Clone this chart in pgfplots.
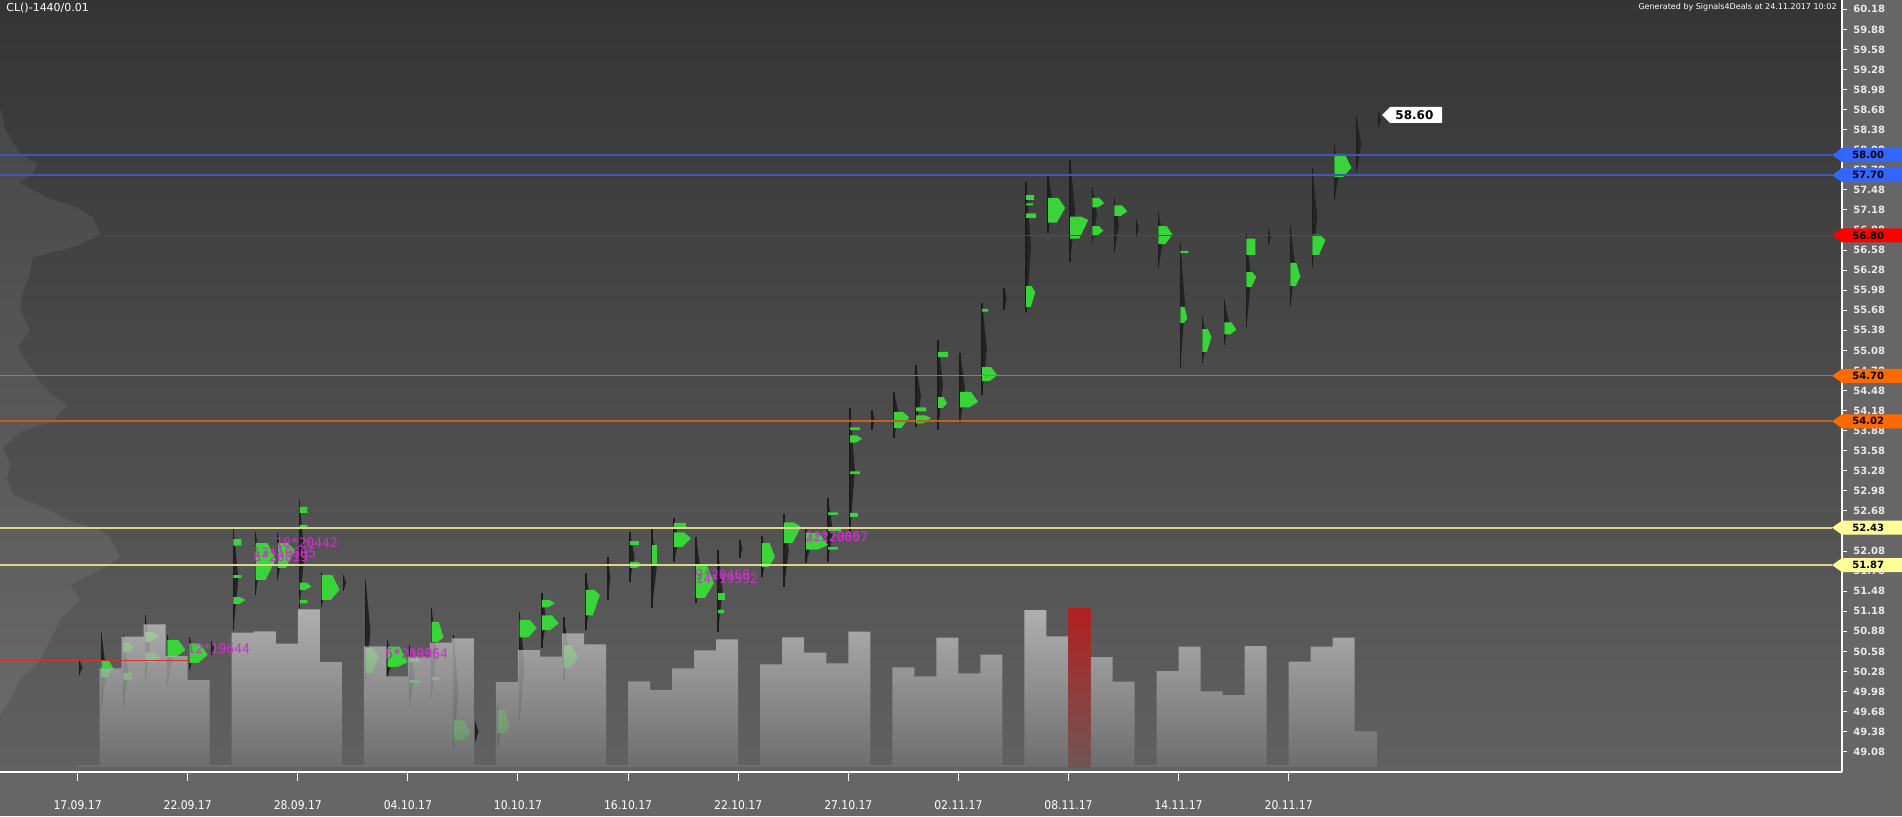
\documentclass[border=0pt]{standalone}
\usepackage{fontspec}
\setmainfont{DejaVu Sans}
\newfontfamily\condfont{DejaVu Sans Condensed}
\newfontfamily\monofont{DejaVu Sans Mono}
\usepackage{pgfplots}
\pgfplotsset{compat=1.18}
\definecolor{bgout}{HTML}{666666}
\definecolor{bgtop}{HTML}{343434}
\definecolor{bgmid}{HTML}{4C4C4C}
\definecolor{bgbot}{HTML}{616161}
\definecolor{volTop}{HTML}{CDCDCD}
\definecolor{volBot}{HTML}{737373}
\definecolor{redTop}{HTML}{C01818}
\definecolor{redBot}{HTML}{745454}
\definecolor{prgreen}{HTML}{38D438}
\definecolor{prline}{HTML}{1C1C1C}
\definecolor{prhair}{HTML}{242424}
\definecolor{lvblue}{HTML}{3A58B8}
\definecolor{lvred}{HTML}{B81C1C}
\definecolor{lvorA}{HTML}{D2691E}
\definecolor{lvorB}{HTML}{C0601E}
\definecolor{lvyel}{HTML}{D8D890}
\definecolor{tagblue}{HTML}{3366FF}
\definecolor{tagred}{HTML}{FF0000}
\definecolor{tagor}{HTML}{FF6A00}
\definecolor{tagyel}{HTML}{FFFF99}
\definecolor{mag}{HTML}{CC33CC}
\pgfplotsset{
  base/.style={at={(0pt,22pt)}, anchor=south west, scale only axis,
    width=921pt, height=386pt, xmin=-3.524, xmax=80.13},
  price/.style={base, ymin=48.777, ymax=60.319},
}
\newcommand{\ptag}[3]{%
  \fill[#2] (#1) ++(-10,0) -- ++(10,7) -- ++(60,0) -- ++(0,-14) -- ++(-60,0) -- cycle;
  \node[anchor=west, inner sep=0pt, text=black, font=\bfseries\fontsize{5}{6}\selectfont] at ([xshift=5pt]#1) {#3};}
\begin{document}
\begin{tikzpicture}[x=0.5pt,y=0.5pt]
\useasboundingbox (0,0) rectangle (1902,816);
\fill[bgout] (0,0) rectangle (1902,816);
\shade[top color=bgtop, middle color=bgmid, bottom color=bgbot] (0,44) rectangle (1842,816);

% ---------- price layer 1: market profiles ----------
\begin{axis}[price, axis x line*=bottom, axis y line=none, ytick=\empty,
  axis line style={white, line width=0.6pt},
  xtick={0,5,...,55},
  xticklabels={17.09.17,22.09.17,28.09.17,04.10.17,10.10.17,16.10.17,22.10.17,27.10.17,02.11.17,08.11.17,14.11.17,20.11.17},
  tick align=outside, major tick length=4.5pt,
  tick style={white, line width=0.5pt},
  xticklabel style={font=\condfont\fontsize{6}{7}\selectfont, text=white, inner sep=0pt, yshift=-9.5pt}]
% composite volume profile at the left edge
\addplot[fill=white, fill opacity=0.07, draw=none] coordinates {
(-3.524,58.70) (-3.43,58.629) (-3.30,58.390) (-2.62,58.016) (-1.84,57.867) (-2.03,57.717)
(-2.62,57.583) (-1.25,57.344) (-0.03,57.224) (0.70,57.060) (1.02,56.805) (-0.03,56.641)
(-2.03,56.476) (-2.16,56.237) (-2.48,55.953) (-2.62,55.714) (-2.16,55.370) (-2.71,55.131)
(-2.30,54.906) (-1.84,54.667) (-1.25,54.443) (-0.48,54.263) (-1.12,54.024) (-2.62,53.860)
(-3.39,53.620) (-3.07,53.381) (-3.21,53.157) (-2.93,52.918) (-1.25,52.693) (-0.21,52.514)
(1.02,52.394) (1.47,52.290) (1.93,51.991) (1.02,51.796) (-0.34,51.572) (0.11,51.348)
(-0.80,51.048) (-1.25,50.750) (-1.71,50.450) (-2.62,50.152) (-3.07,49.853) (-3.524,49.628)} -- cycle;
% dark TPO hair beside each daily range (low, mid, high)
\addplot[fill=prhair, draw=none, unbounded coords=jump] coordinates {
(0.08,50.23) (0.22,50.34) (0.08,50.45) (0.08,nan)
(1.08,49.70) (1.30,50.28) (1.08,50.86) (1.08,nan)
(2.08,49.75) (2.30,50.285) (2.08,50.82) (2.08,nan)
(3.08,50.15) (3.30,50.635) (3.08,51.12) (3.08,nan)
(4.08,50.08) (4.30,50.45) (4.08,50.82) (4.08,nan)
(5.08,50.30) (5.30,50.55) (5.08,50.80) (5.08,nan)
(6.08,50.53) (6.20,50.63) (6.08,50.73) (6.08,nan)
(7.08,50.90) (7.30,51.67) (7.08,52.44) (7.08,nan)
(8.08,51.42) (8.30,51.895) (8.08,52.37) (8.08,nan)
(9.08,51.65) (9.30,52.00) (9.08,52.35) (9.08,nan)
(10.08,51.23) (10.30,52.035) (10.08,52.84) (10.08,nan)
(11.08,51.25) (11.30,51.51) (11.08,51.77) (11.08,nan)
(12.08,51.49) (12.20,51.605) (12.08,51.72) (12.08,nan)
(13.08,50.11) (13.30,50.88) (13.08,51.65) (13.08,nan)
(14.08,50.19) (14.30,50.47) (14.08,50.75) (14.08,nan)
(15.08,49.78) (15.30,50.225) (15.08,50.67) (15.08,nan)
(16.08,49.88) (16.30,50.555) (16.08,51.23) (16.08,nan)
(17.08,49.11) (17.30,49.965) (17.08,50.82) (17.08,nan)
(18.08,49.24) (18.20,49.38) (18.08,49.52) (18.08,nan)
(19.08,49.13) (19.30,49.47) (19.08,49.81) (19.08,nan)
(20.08,49.55) (20.30,50.36) (20.08,51.17) (20.08,nan)
(21.08,50.63) (21.30,51.04) (21.08,51.45) (21.08,nan)
(22.08,50.15) (22.30,50.62) (22.08,51.09) (22.08,nan)
(23.08,50.90) (23.30,51.325) (23.08,51.75) (23.08,nan)
(24.08,51.35) (24.20,51.67) (24.08,51.99) (24.08,nan)
(25.08,51.62) (25.30,51.995) (25.08,52.37) (25.08,nan)
(26.08,51.23) (26.30,51.825) (26.08,52.42) (26.08,nan)
(27.08,51.92) (27.30,52.245) (27.08,52.57) (27.08,nan)
(28.08,51.30) (28.30,51.795) (28.08,52.29) (28.08,nan)
(29.08,50.87) (29.30,51.485) (29.08,52.10) (29.08,nan)
(30.08,51.98) (30.20,52.115) (30.08,52.25) (30.08,nan)
(31.08,51.69) (31.30,52.00) (31.08,52.31) (31.08,nan)
(32.08,51.54) (32.30,52.085) (32.08,52.63) (32.08,nan)
(33.08,51.90) (33.30,52.17) (33.08,52.44) (33.08,nan)
(34.08,51.92) (34.30,52.395) (34.08,52.87) (34.08,nan)
(35.08,52.36) (35.30,53.29) (35.08,54.22) (35.08,nan)
(36.08,53.89) (36.20,54.04) (36.08,54.19) (36.08,nan)
(37.08,53.77) (37.30,54.115) (37.08,54.46) (37.08,nan)
(38.08,53.93) (38.30,54.395) (38.08,54.86) (38.08,nan)
(39.08,53.89) (39.30,54.565) (39.08,55.24) (39.08,nan)
(40.08,53.99) (40.30,54.515) (40.08,55.04) (40.08,nan)
(41.08,54.41) (41.30,55.10) (41.08,55.79) (41.08,nan)
(42.08,55.68) (42.20,55.845) (42.08,56.01) (42.08,nan)
(43.08,55.65) (43.30,56.625) (43.08,57.60) (43.08,nan)
(44.08,56.84) (44.30,57.27) (44.08,57.70) (44.08,nan)
(45.08,56.40) (45.30,57.165) (45.08,57.93) (45.08,nan)
(46.08,56.70) (46.30,57.11) (46.08,57.52) (46.08,nan)
(47.08,56.55) (47.30,56.955) (47.08,57.36) (47.08,nan)
(48.08,56.78) (48.20,56.905) (48.08,57.03) (48.08,nan)
(49.08,56.31) (49.30,56.73) (49.08,57.15) (49.08,nan)
(50.08,54.82) (50.30,55.75) (50.08,56.68) (50.08,nan)
(51.08,54.89) (51.30,55.235) (51.08,55.58) (51.08,nan)
(52.08,55.16) (52.30,55.495) (52.08,55.83) (52.08,nan)
(53.08,55.43) (53.30,56.135) (53.08,56.84) (53.08,nan)
(54.08,56.66) (54.20,56.78) (54.08,56.90) (54.08,nan)
(55.08,55.74) (55.30,56.34) (55.08,56.94) (55.08,nan)
(56.08,56.33) (56.30,57.07) (56.08,57.81) (56.08,nan)
(57.08,57.33) (57.30,57.74) (57.08,58.15) (57.08,nan)
(58.08,57.75) (58.30,58.165) (58.08,58.58) (58.08,nan)
(59.08,58.42) (59.20,58.53) (59.08,58.64)};
% daily ranges
\addplot[draw=prline, line width=0.75pt, unbounded coords=jump] coordinates {
(0.08,50.23) (0.08,50.45) (0.08,nan)
(1.08,49.70) (1.08,50.86) (1.08,nan)
(2.08,49.75) (2.08,50.82) (2.08,nan)
(3.08,50.15) (3.08,51.12) (3.08,nan)
(4.08,50.08) (4.08,50.82) (4.08,nan)
(5.08,50.30) (5.08,50.80) (5.08,nan)
(6.08,50.53) (6.08,50.73) (6.08,nan)
(7.08,50.90) (7.08,52.44) (7.08,nan)
(8.08,51.42) (8.08,52.37) (8.08,nan)
(9.08,51.65) (9.08,52.35) (9.08,nan)
(10.08,51.23) (10.08,52.84) (10.08,nan)
(11.08,51.25) (11.08,51.77) (11.08,nan)
(12.08,51.49) (12.08,51.72) (12.08,nan)
(13.08,50.11) (13.08,51.65) (13.08,nan)
(14.08,50.19) (14.08,50.75) (14.08,nan)
(15.08,49.78) (15.08,50.67) (15.08,nan)
(16.08,49.88) (16.08,51.23) (16.08,nan)
(17.08,49.11) (17.08,50.82) (17.08,nan)
(18.08,49.24) (18.08,49.52) (18.08,nan)
(19.08,49.13) (19.08,49.81) (19.08,nan)
(20.08,49.55) (20.08,51.17) (20.08,nan)
(21.08,50.63) (21.08,51.45) (21.08,nan)
(22.08,50.15) (22.08,51.09) (22.08,nan)
(23.08,50.90) (23.08,51.75) (23.08,nan)
(24.08,51.35) (24.08,51.99) (24.08,nan)
(25.08,51.62) (25.08,52.37) (25.08,nan)
(26.08,51.23) (26.08,52.42) (26.08,nan)
(27.08,51.92) (27.08,52.57) (27.08,nan)
(28.08,51.30) (28.08,52.29) (28.08,nan)
(29.08,50.87) (29.08,52.10) (29.08,nan)
(30.08,51.98) (30.08,52.25) (30.08,nan)
(31.08,51.69) (31.08,52.31) (31.08,nan)
(32.08,51.54) (32.08,52.63) (32.08,nan)
(33.08,51.90) (33.08,52.44) (33.08,nan)
(34.08,51.92) (34.08,52.87) (34.08,nan)
(35.08,52.36) (35.08,54.22) (35.08,nan)
(36.08,53.89) (36.08,54.19) (36.08,nan)
(37.08,53.77) (37.08,54.46) (37.08,nan)
(38.08,53.93) (38.08,54.86) (38.08,nan)
(39.08,53.89) (39.08,55.24) (39.08,nan)
(40.08,53.99) (40.08,55.04) (40.08,nan)
(41.08,54.41) (41.08,55.79) (41.08,nan)
(42.08,55.68) (42.08,56.01) (42.08,nan)
(43.08,55.65) (43.08,57.60) (43.08,nan)
(44.08,56.84) (44.08,57.70) (44.08,nan)
(45.08,56.40) (45.08,57.93) (45.08,nan)
(46.08,56.70) (46.08,57.52) (46.08,nan)
(47.08,56.55) (47.08,57.36) (47.08,nan)
(48.08,56.78) (48.08,57.03) (48.08,nan)
(49.08,56.31) (49.08,57.15) (49.08,nan)
(50.08,54.82) (50.08,56.68) (50.08,nan)
(51.08,54.89) (51.08,55.58) (51.08,nan)
(52.08,55.16) (52.08,55.83) (52.08,nan)
(53.08,55.43) (53.08,56.84) (53.08,nan)
(54.08,56.66) (54.08,56.90) (54.08,nan)
(55.08,55.74) (55.08,56.94) (55.08,nan)
(56.08,56.33) (56.08,57.81) (56.08,nan)
(57.08,57.33) (57.08,58.15) (57.08,nan)
(58.08,57.75) (58.08,58.58) (58.08,nan)
(59.08,58.42) (59.08,58.64) (59.08,nan)};
% green profile blocks
\addplot[fill=prgreen, draw=none, unbounded coords=jump] coordinates {
(1.08,50.45) (1.40,50.45) (1.62,50.33) (1.35,50.20) (1.08,50.20) (1.08,nan)
(2.08,50.71) (2.35,50.71) (2.53,50.64) (2.31,50.57) (2.08,50.57) (2.08,nan)
(2.08,50.15) (2.49,50.15) (2.49,50.26) (2.08,50.26) (2.08,nan)
(3.08,50.87) (3.43,50.87) (3.67,50.80) (3.38,50.72) (3.08,50.72) (3.08,nan)
(3.08,50.56) (3.49,50.56) (3.76,50.49) (3.42,50.42) (3.08,50.42) (3.08,nan)
(4.08,50.75) (4.57,50.75) (4.90,50.60) (4.49,50.50) (4.08,50.50) (4.08,nan)
(5.08,50.70) (5.57,50.70) (5.90,50.53) (5.49,50.41) (5.08,50.41) (5.08,nan)
(7.08,52.16) (7.44,52.16) (7.44,52.26) (7.08,52.26) (7.08,nan)
(7.08,51.68) (7.44,51.68) (7.44,51.72) (7.08,51.72) (7.08,nan)
(7.08,51.39) (7.40,51.39) (7.62,51.35) (7.35,51.29) (7.08,51.29) (7.08,nan)
(8.08,52.20) (8.63,52.20) (8.99,51.95) (8.54,51.65) (8.08,51.65) (8.08,nan)
(9.08,52.20) (9.54,52.20) (9.85,52.10) (9.47,51.83) (9.08,51.83) (9.08,nan)
(10.08,52.65) (10.44,52.65) (10.44,52.74) (10.08,52.74) (10.08,nan)
(10.08,52.42) (10.44,52.42) (10.44,52.47) (10.08,52.47) (10.08,nan)
(10.08,51.61) (10.40,51.61) (10.62,51.55) (10.35,51.50) (10.08,51.50) (10.08,nan)
(10.08,51.30) (10.44,51.30) (10.44,51.35) (10.08,51.35) (10.08,nan)
(11.08,51.72) (11.57,51.72) (11.90,51.50) (11.49,51.35) (11.08,51.35) (11.08,nan)
(13.08,50.63) (13.43,50.63) (13.67,50.50) (13.38,50.26) (13.08,50.26) (13.08,nan)
(14.08,50.65) (14.63,50.65) (14.99,50.42) (14.54,50.35) (14.08,50.35) (14.08,nan)
(15.08,50.42) (15.53,50.42) (15.53,50.50) (15.08,50.50) (15.08,nan)
(15.08,50.11) (15.53,50.11) (15.53,50.15) (15.08,50.15) (15.08,nan)
(16.08,51.02) (16.40,51.02) (16.62,50.79) (16.35,50.72) (16.08,50.72) (16.08,nan)
(16.08,50.15) (16.44,50.15) (16.44,50.20) (16.08,50.20) (16.08,nan)
(17.08,49.55) (17.54,49.55) (17.85,49.36) (17.47,49.25) (17.08,49.25) (17.08,nan)
(19.08,49.70) (19.40,49.70) (19.62,49.45) (19.35,49.36) (19.08,49.36) (19.08,nan)
(20.08,51.05) (20.54,51.05) (20.85,50.93) (20.47,50.79) (20.08,50.79) (20.08,nan)
(21.08,51.35) (21.43,51.35) (21.67,51.30) (21.38,51.24) (21.08,51.24) (21.08,nan)
(21.08,51.12) (21.54,51.12) (21.85,51.00) (21.47,50.90) (21.08,50.90) (21.08,nan)
(22.08,50.67) (22.46,50.67) (22.72,50.50) (22.40,50.33) (22.08,50.33) (22.08,nan)
(23.08,51.50) (23.46,51.50) (23.72,51.42) (23.40,51.12) (23.08,51.12) (23.08,nan)
(25.08,52.17) (25.49,52.17) (25.49,52.23) (25.08,52.23) (25.08,nan)
(25.08,51.92) (25.43,51.92) (25.67,51.87) (25.38,51.83) (25.08,51.83) (25.08,nan)
(26.08,51.87) (26.31,51.87) (26.31,52.17) (26.08,52.17) (26.08,nan)
(27.08,52.44) (27.62,52.44) (27.62,52.50) (27.08,52.50) (27.08,nan)
(27.08,52.36) (27.54,52.36) (27.85,52.27) (27.47,52.14) (27.08,52.14) (27.08,nan)
(28.08,51.87) (28.57,51.87) (28.90,51.60) (28.49,51.38) (28.08,51.38) (28.08,nan)
(29.08,51.35) (29.40,51.35) (29.40,51.45) (29.08,51.45) (29.08,nan)
(29.08,51.15) (29.35,51.15) (29.35,51.20) (29.08,51.20) (29.08,nan)
(31.08,52.20) (31.43,52.20) (31.67,51.99) (31.38,51.84) (31.08,51.84) (31.08,nan)
(32.08,52.51) (32.54,52.51) (32.85,52.44) (32.47,52.20) (32.08,52.20) (32.08,nan)
(33.08,52.35) (33.68,52.35) (34.08,52.17) (33.58,52.10) (33.08,52.10) (33.08,nan)
(34.08,52.62) (34.53,52.62) (34.53,52.66) (34.08,52.66) (34.08,nan)
(34.08,52.38) (34.67,52.38) (34.67,52.43) (34.08,52.43) (34.08,nan)
(34.08,52.10) (34.53,52.10) (34.53,52.14) (34.08,52.14) (34.08,nan)
(35.08,53.89) (35.53,53.89) (35.53,53.93) (35.08,53.93) (35.08,nan)
(35.08,53.81) (35.40,53.81) (35.62,53.76) (35.35,53.70) (35.08,53.70) (35.08,nan)
(35.08,53.23) (35.53,53.23) (35.53,53.27) (35.08,53.27) (35.08,nan)
(35.08,52.59) (35.44,52.59) (35.44,52.65) (35.08,52.65) (35.08,nan)
(37.08,54.16) (37.49,54.16) (37.76,54.08) (37.42,53.92) (37.08,53.92) (37.08,nan)
(38.08,54.17) (38.53,54.17) (38.53,54.23) (38.08,54.23) (38.08,nan)
(38.08,54.11) (38.49,54.11) (38.76,54.07) (38.42,53.99) (38.08,53.99) (38.08,nan)
(39.08,54.98) (39.53,54.98) (39.53,55.06) (39.08,55.06) (39.08,nan)
(39.08,54.38) (39.33,54.38) (39.49,54.29) (39.29,54.22) (39.08,54.22) (39.08,nan)
(40.08,54.46) (40.57,54.46) (40.90,54.31) (40.49,54.23) (40.08,54.23) (40.08,nan)
(41.08,55.66) (41.35,55.66) (41.35,55.70) (41.08,55.70) (41.08,nan)
(41.08,54.83) (41.49,54.83) (41.76,54.71) (41.42,54.62) (41.08,54.62) (41.08,nan)
(43.08,57.33) (43.44,57.33) (43.44,57.40) (43.08,57.40) (43.08,nan)
(43.08,57.25) (43.40,57.25) (43.40,57.28) (43.08,57.28) (43.08,nan)
(43.08,57.06) (43.53,57.06) (43.53,57.13) (43.08,57.13) (43.08,nan)
(43.08,56.04) (43.33,56.04) (43.49,55.95) (43.29,55.73) (43.08,55.73) (43.08,nan)
(44.08,57.36) (44.54,57.36) (44.85,57.21) (44.47,56.99) (44.08,56.99) (44.08,nan)
(45.08,57.08) (45.57,57.08) (45.90,57.03) (45.49,56.75) (45.08,56.75) (45.08,nan)
(46.08,57.36) (46.40,57.36) (46.62,57.28) (46.35,57.22) (46.08,57.22) (46.08,nan)
(46.08,56.94) (46.38,56.94) (46.58,56.87) (46.33,56.80) (46.08,56.80) (46.08,nan)
(47.08,57.25) (47.43,57.25) (47.67,57.16) (47.38,57.09) (47.08,57.09) (47.08,nan)
(49.08,56.94) (49.46,56.94) (49.72,56.81) (49.40,56.67) (49.08,56.67) (49.08,nan)
(50.08,56.54) (50.44,56.54) (50.44,56.57) (50.08,56.57) (50.08,nan)
(50.08,55.73) (50.27,55.73) (50.40,55.56) (50.24,55.49) (50.08,55.49) (50.08,nan)
(51.08,55.40) (51.33,55.40) (51.49,55.28) (51.29,55.06) (51.08,55.06) (51.08,nan)
(52.08,55.50) (52.40,55.50) (52.62,55.39) (52.35,55.32) (52.08,55.32) (52.08,nan)
(53.08,56.51) (53.49,56.51) (53.49,56.75) (53.08,56.75) (53.08,nan)
(53.08,56.25) (53.35,56.25) (53.53,56.18) (53.31,56.03) (53.08,56.03) (53.08,nan)
(55.08,56.39) (55.35,56.39) (55.53,56.18) (55.31,56.04) (55.08,56.04) (55.08,nan)
(56.08,56.81) (56.43,56.81) (56.67,56.73) (56.38,56.51) (56.08,56.51) (56.08,nan)
(57.08,58.02) (57.54,58.02) (57.85,57.81) (57.47,57.67) (57.08,57.67)};
\end{axis}

% ---------- volume layer ----------
\begin{axis}[base, hide axis, ymin=-5, ymax=767]
\addplot[ybar, bar width=1, bar shift=0pt, draw=none, top color=volTop, bottom color=volBot, fill opacity=0.75] coordinates {
(0.5,2) (1.5,98.7) (2.5,130.3) (3.5,142.7) (4.5,111) (5.5,87) (6.5,2)
(7.5,134.3) (8.5,135.7) (9.5,123.3) (10.5,157.7) (11.5,105) (12.5,2)
(13.5,120.7) (14.5,90.7) (15.5,110.3) (16.5,124.3) (17.5,128.7) (18.5,2)
(19.5,85) (20.5,117) (21.5,110.3) (22.5,133.7) (23.5,122.7) (24.5,2)
(25.5,85.7) (26.5,77) (27.5,98.7) (28.5,116.7) (29.5,127.7) (30.5,2)
(31.5,102.7) (32.5,129.7) (33.5,114.3) (34.5,103.7) (35.5,135.3) (36.5,2)
(37.5,99.7) (38.5,90.7) (39.5,129.3) (40.5,93.7) (41.5,112.3) (42.5,2)
(43.5,157) (44.5,130.7) (46.5,110) (47.5,85.3) (48.5,2)
(49.5,96) (50.5,120.3) (51.5,75.7) (52.5,72) (53.5,121) (54.5,2)
(55.5,105.3) (56.5,120.3) (57.5,129.3) (58.5,35.7)};
\addplot[ybar, bar width=1, bar shift=0pt, draw=none, top color=redTop, bottom color=redBot, fill opacity=0.85] coordinates {(45.5,159)};
\end{axis}

% ---------- price layer 2: levels, labels, right scale ----------
\begin{axis}[price, clip=false, axis y line*=right, axis x line=none, xtick=\empty,
  axis line style={white, line width=0.6pt},
  ytick={49.08,49.38,...,60.18},
  tick align=outside, major tick length=2.5pt,
  tick style={white, line width=0.5pt},
  /pgf/number format/assume math mode=true,
  yticklabel style={/pgf/number format/.cd, fixed, fixed zerofill, precision=2, /tikz/.cd,
    font=\bfseries\fontsize{5}{6}\selectfont, text=white!92!black, anchor=west, inner sep=0pt, xshift=3pt}]
\addplot[lvblue, line width=1pt] coordinates {(-3.524,58.00) (79.67,58.00)};
\addplot[lvblue, line width=1pt] coordinates {(-3.524,57.70) (79.67,57.70)};
\addplot[lvred, line width=0.8pt] coordinates {(-3.524,56.80) (79.67,56.80)};
\addplot[lvorA, line width=0.5pt] coordinates {(-3.524,54.70) (79.67,54.70)};
\addplot[lvorB, line width=0.9pt] coordinates {(-3.524,54.02) (79.67,54.02)};
\addplot[lvyel, line width=0.9pt] coordinates {(-3.524,52.43) (79.67,52.43)};
\addplot[lvyel, line width=0.9pt] coordinates {(-3.524,51.87) (79.67,51.87)};
\addplot[red!60!gray, line width=0.35pt] coordinates {(-3.524,50.45) (5.10,50.45)};
\coordinate (T1) at (axis cs:80.13,58.00);
\coordinate (T2) at (axis cs:80.13,57.70);
\coordinate (T3) at (axis cs:80.13,56.80);
\coordinate (T4) at (axis cs:80.13,54.70);
\coordinate (T5) at (axis cs:80.13,54.02);
\coordinate (T6) at (axis cs:80.13,52.43);
\coordinate (T7) at (axis cs:80.13,51.87);
\coordinate (T0) at (axis cs:59.24,58.60);
\begin{scope}[every node/.style={anchor=west, inner sep=0pt, text=mag, font=\monofont\fontsize{6.5}{7}\selectfont}]
\node at (axis cs:4.97,50.615) {12*19644};
\node at (axis cs:8.96,52.20) {10*20442};
\node at (axis cs:7.97,52.05) {13*19605};
\node at (axis cs:7.97,51.99) {8*20819};
\node at (axis cs:13.96,50.54) {6*20955};
\node at (axis cs:13.96,50.54) {5*210964};
\node at (axis cs:28.04,51.72) {9*20460};
\node at (axis cs:28.04,51.66) {14*19592};
\node at (axis cs:33.04,52.29) {3*22069};
\node at (axis cs:33.04,52.29) {22*20067};
\end{scope}
\end{axis}

\ptag{T1}{tagblue}{58.00}
\ptag{T2}{tagblue}{57.70}
\ptag{T3}{tagred}{56.80}
\ptag{T4}{tagor}{54.70}
\ptag{T5}{tagor}{54.02}
\ptag{T6}{tagyel}{52.43}
\ptag{T7}{tagyel}{51.87}
\fill[white] (T0) -- ++(8,8) -- ++(52,0) -- ++(0,-16) -- ++(-52,0) -- cycle;
\node[anchor=west, inner sep=0pt, text=black, font=\bfseries\fontsize{6}{7}\selectfont] at ([xshift=6.5pt]T0) {58.60};
\node[anchor=west, inner sep=0pt, text=white, font=\fontsize{5.5}{6}\selectfont] at (6,808) {CL()-1440/0.01};
\node[anchor=east, inner sep=0pt, text=white, font=\fontsize{4}{5}\selectfont] at (1837,809) {Generated by Signals4Deals at 24.11.2017 10:02};
\end{tikzpicture}
\end{document}
